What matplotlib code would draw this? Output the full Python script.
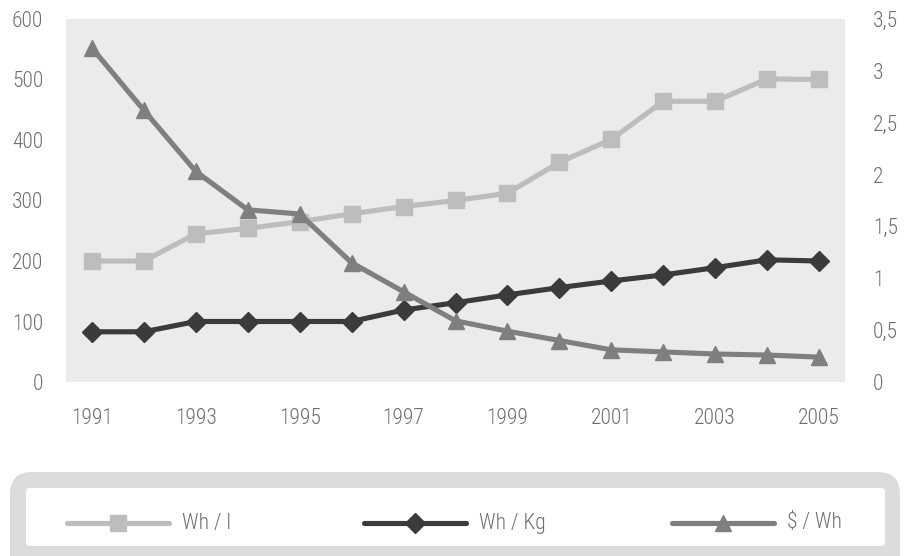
import matplotlib
matplotlib.use("Agg")
import matplotlib.pyplot as plt
from matplotlib.patches import FancyBboxPatch
from matplotlib.lines import Line2D
from matplotlib.ticker import FuncFormatter

plt.rcParams['font.family'] = ['Roboto Condensed', 'Liberation Sans', 'DejaVu Sans']
plt.rcParams['font.weight'] = 300

years = [str(y) for y in range(1991, 2006)]
wh_per_l = [200, 200, 245, 254, 265, 278, 290, 300, 312, 363, 401, 464, 464, 501, 500]
wh_per_kg = [83, 83, 100, 100, 100, 100, 119, 131, 144, 156, 167, 177, 189, 202, 200]
usd_per_wh = [3.22, 2.62, 2.03, 1.66, 1.62, 1.15, 0.87, 0.59, 0.49, 0.40, 0.31, 0.29, 0.27, 0.26, 0.24]

left_ticks = [0, 100, 200, 300, 400, 500, 600]
right_ticks = [0, 0.5, 1, 1.5, 2, 2.5, 3, 3.5]
xtick_labels = ['1991', '1993', '1995', '1997', '1999', '2001', '2003', '2005']
series_names = ['Wh / l', 'Wh / Kg', '$ / Wh']

c_l = '#bdbdbf'
c_kg = '#3b3b3b'
c_usd = '#7f7f81'
txt = '#6e6e6e'
fs = 15.5

W, H = 906, 556
fig = plt.figure(figsize=(W / 100, H / 100), dpi=100)

# full-figure overlay in pixel units for the legend panel
bg = fig.add_axes([0, 0, 1, 1], zorder=0)
bg.set_xlim(0, W)
bg.set_ylim(H, 0)
bg.axis('off')

ax = fig.add_axes([66 / W, (H - 382) / H, 779 / W, 363 / H], zorder=1)
ax.set_facecolor('#ebebed')
ax2 = ax.twinx()

x = list(range(len(years)))
ax.plot(x, wh_per_l, color=c_l, lw=3.7, marker='s', ms=11.5, zorder=3)
ax.plot(x, wh_per_kg, color=c_kg, lw=3.7, marker='D', ms=9.8, zorder=4)
ax2.plot(x, usd_per_wh, color=c_usd, lw=3.7, marker='^', ms=11.5, zorder=3)

ax.set_xlim(-0.5, len(years) - 0.5)
ax.set_ylim(0, 600)
ax2.set_ylim(0, 3.5)

ax.set_xticks([years.index(t) for t in xtick_labels])
ax.set_xticklabels(xtick_labels)
ax.set_yticks(left_ticks)
ax2.set_yticks(right_ticks)
ax2.yaxis.set_major_formatter(FuncFormatter(lambda v, p: ('%g' % v).replace('.', ',')))

for a in (ax, ax2):
    for s in a.spines.values():
        s.set_visible(False)
ax.tick_params(axis='both', length=0, labelsize=fs, labelcolor=txt)
ax.tick_params(axis='y', pad=16.5)
ax.tick_params(axis='x', pad=19)
ax2.tick_params(axis='y', length=0, labelsize=fs, labelcolor=txt, pad=20)

# legend panel: grey rounded frame with a white inner box
bg.add_patch(FancyBboxPatch((10, 472), 890, 110,
                            boxstyle='round,pad=0,rounding_size=22',
                            facecolor='#dcdcde', edgecolor='none'))
bg.add_patch(FancyBboxPatch((26, 488), 859, 58,
                            boxstyle='round,pad=0,rounding_size=4',
                            facecolor='white', edgecolor='none'))

ly = 523
specs = [(67, c_l, 's', 11.5), (364, c_kg, 'D', 9.8), (672, c_usd, '^', 11.5)]
for name, (x0, col, mk, ms) in zip(series_names, specs):
    bg.add_line(Line2D([x0, x0 + 102], [ly, ly], color=col, lw=3.7,
                       solid_capstyle='round'))
    bg.add_line(Line2D([x0 + 51], [ly], color=col, marker=mk, ms=ms, lw=0))
    bg.text(x0 + 115, ly, name, color=txt, fontsize=fs, va='center', ha='left')

fig.savefig('out.png', dpi=100)
